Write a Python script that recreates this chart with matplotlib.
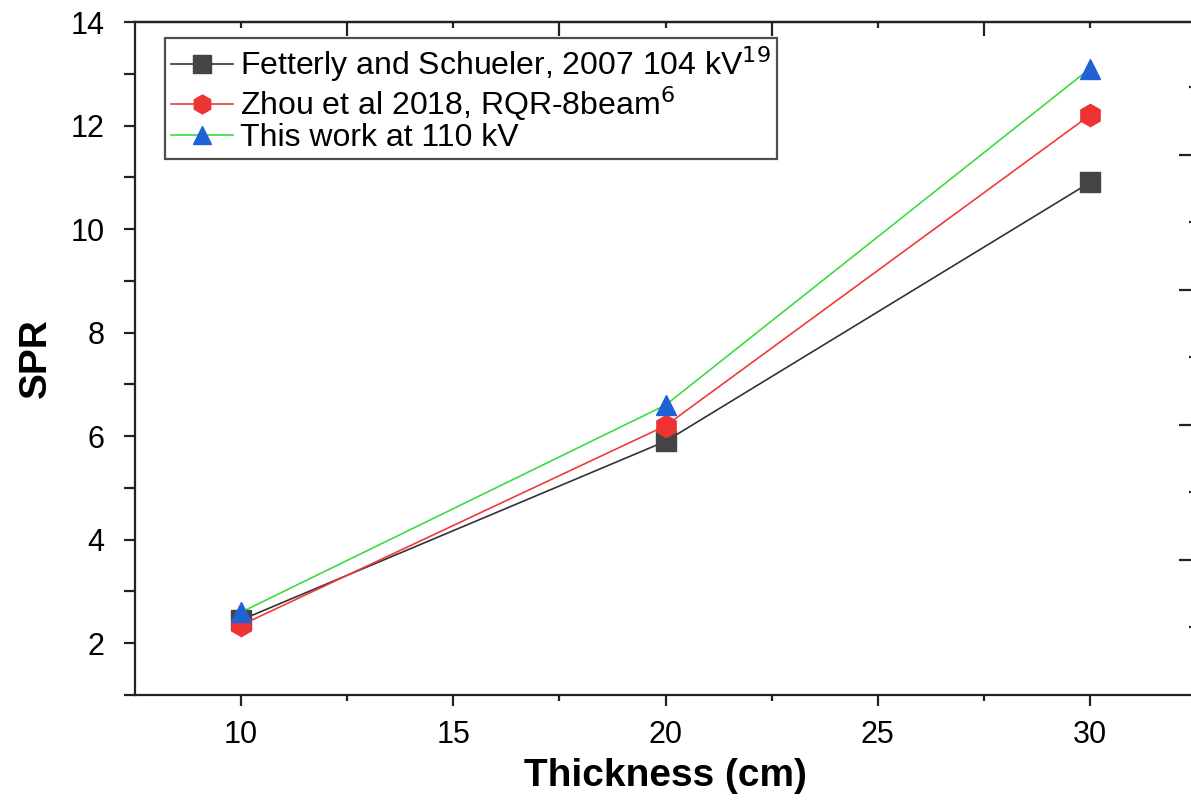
import numpy as np
import matplotlib
matplotlib.use("Agg")
import matplotlib.pyplot as plt

plt.rcParams['font.family'] = ['Liberation Sans', 'DejaVu Sans']

# data
thickness = [10, 20, 30]
spr_fetterly = [2.45, 5.9, 10.9]
spr_zhou = [2.35, 6.2, 12.2]
spr_this = [2.6, 6.6, 13.1]

labels = ["Fetterly and Schueler, 2007 104 kV$^{19}$",
          "Zhou et al 2018, RQR-8beam$^{6}$",
          "This work at 110 kV"]

fig = plt.figure(figsize=(11.91, 8), dpi=100)
ax = fig.add_axes([0.1134, 0.13125, 0.8908, 0.84125])

ax.plot(thickness, spr_fetterly, '-', color='#333333', lw=1.2,
        marker='s', ms=15, mfc='#444444', mec='#444444', label=labels[0])
ax.plot(thickness, spr_zhou, '-', color='#ee3b3b', lw=1.2,
        marker='h', ms=16, mfc='#ee3333', mec='#ee3333', label=labels[1])
ax.plot(thickness, spr_this, '-', color='#3ddc3d', lw=1.2,
        marker='^', ms=15, mfc='#1f62d6', mec='#1f62d6', label=labels[2])

ax.set_xlim(7.5, 32.5)
ax.set_ylim(1, 14)
ax.set_xticks([10, 15, 20, 25, 30])
ax.set_xticks([12.5, 17.5, 22.5, 27.5], minor=True)
ax.set_yticks([2, 4, 6, 8, 10, 12, 14])
ax.set_yticks([1, 3, 5, 7, 9, 11, 13], minor=True)

for side in ['left', 'bottom', 'top', 'right']:
    ax.spines[side].set_linewidth(1.6)
    ax.spines[side].set_color('#222222')

ax.tick_params(axis='both', which='major', direction='out', length=8,
               width=1.6, labelsize=22, color='#222222', pad=10)
ax.tick_params(axis='x', which='minor', direction='out', length=4, width=1.6,
               color='#222222')
ax.tick_params(axis='y', which='minor', direction='out', length=8, width=1.6,
               color='#222222')
ax.tick_params(axis='y', which='major', pad=14)

# top axis: inward ticks, offset pattern
top = ax.secondary_xaxis('top')
top.set_xticks([12.5, 17.5, 22.5, 27.5])
top.set_xticks([10, 15, 20, 25, 30], minor=True)
top.set_xticklabels([])
top.tick_params(which='major', direction='in', length=10, width=1.6, color='#222222')
top.tick_params(which='minor', direction='in', length=4, width=1.6, color='#222222')
top.spines['top'].set_linewidth(1.6)

# right axis: inward ticks on its own scale
right = ax.twinx()
right.set_ylim(0, 9.97)
right.set_yticks([2, 4, 6, 8])
right.set_yticks([1, 3, 5, 7, 9], minor=True)
right.set_yticklabels([])
right.tick_params(which='major', direction='in', length=12, width=1.6, color='#222222')
right.tick_params(which='minor', direction='in', length=5, width=1.6, color='#222222')
for side in ['left', 'bottom', 'top', 'right']:
    right.spines[side].set_visible(False)

ax.set_xlabel("Thickness (cm)", fontsize=28, fontweight='bold', labelpad=6)
ax.set_ylabel("SPR", fontsize=28, fontweight='bold', labelpad=12)

leg = ax.legend(loc='upper left', bbox_to_anchor=(0.028, 0.976), borderaxespad=0,
                fontsize=23, frameon=True, fancybox=False, handlelength=1.95,
                handletextpad=0.2, labelspacing=0.0, borderpad=0.2,
                markerscale=0.85)
leg.get_frame().set_edgecolor('#222222')
leg.get_frame().set_linewidth(1.6)

fig.savefig("out.png", dpi=100)
